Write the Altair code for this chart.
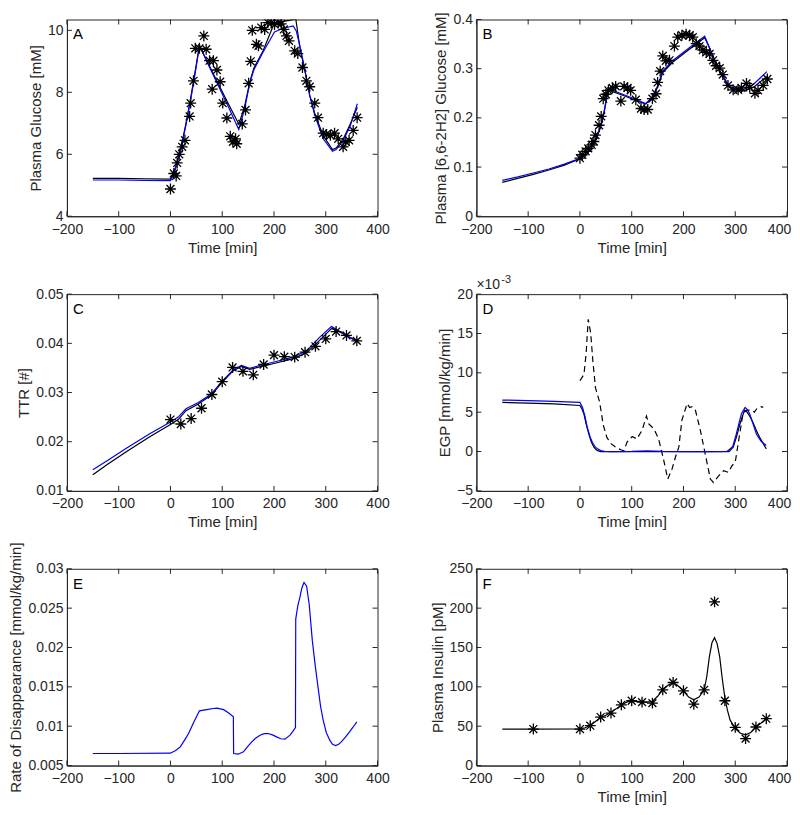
import altair as alt
import pandas as pd

# ------------------------------------------------------------------ data
X_TICKS = [-200, -100, 0, 100, 200, 300, 400]

# Panel A : plasma glucose [mM]
A_obs_t = [0, 6.5, 11, 13, 17, 22.6, 28, 37, 39, 44.5, 48, 56, 64.5, 69, 75.5, 80.6, 83, 89.7, 96, 101,
           109, 115.5, 120.6, 125.8, 128, 138.7, 145, 151, 155, 158, 166, 170, 175.5, 182, 188, 195, 201, 208, 214, 219,
           224, 229, 240, 246, 255, 262.6, 269, 278.7, 285, 295, 301, 309, 317, 324, 333.5, 338.7, 345, 353, 360.6]
A_obs_v = [4.88, 5.38, 5.30, 5.72, 6.0, 6.24, 6.45, 7.22, 7.65, 8.37, 9.42, 9.42, 9.82, 9.39, 9.02, 8.1, 9.02, 8.72, 8.34, 7.65,
           7.17, 6.58, 6.40, 6.50, 6.34, 6.98, 7.43, 8.29, 9.0, 10.0, 9.55, 9.5, 10.09, 10.03, 10.25, 10.25, 10.19, 10.25, 10.21, 10.03,
           9.82, 9.66, 9.34, 9.25, 8.8, 8.37, 8.18, 7.65, 7.18, 6.68, 6.64, 6.61, 6.68, 6.50, 6.24, 6.40, 6.45, 6.77, 7.18]
A_blk_t = [-150, -100, -50, 0, 5, 10, 20, 30, 40, 50, 56, 70, 90, 110, 132, 143, 153, 161, 179, 201, 215, 230, 242,
           250, 259, 269, 279, 295, 313, 320, 334, 348, 361]
A_blk_v = [5.22, 5.22, 5.21, 5.20, 5.35, 5.6, 6.2, 7.0, 7.9, 8.9, 9.5, 9.03, 8.36, 7.69, 6.98, 7.52, 8.32, 8.78, 9.34, 10.25, 10.28, 10.32, 10.38,
           9.44, 8.75, 7.9, 7.3, 6.6, 6.15, 6.2, 6.5, 7.0, 7.52]
A_blu_t = [-150, -100, -50, 0, 5, 10, 20, 30, 40, 50, 56, 70, 90, 110, 132, 143, 153, 161, 179, 201, 217, 237, 243,
           250, 259, 269, 279, 295, 313, 320, 334, 348, 361]
A_blu_v = [5.17, 5.17, 5.16, 5.15, 5.3, 5.55, 6.15, 6.95, 7.85, 8.85, 9.52, 9.0, 8.3, 7.6, 6.8, 7.45, 8.28, 8.72, 9.3, 9.95, 10.06, 10.14, 9.98,
           9.5, 8.78, 7.9, 7.25, 6.5, 6.1, 6.15, 6.45, 6.95, 7.63]

# Panel B : plasma [6,6-2H2] glucose [mM]
B_obs_t = [0, 4.5, 11, 16, 22.7, 27, 30, 37, 41, 45, 50, 55, 63, 69, 79, 85.4, 92, 98, 108, 118,
           124, 131, 140, 147, 150, 155, 160, 166, 173, 182.5, 189, 197, 205, 212, 218, 224.6, 231, 237.5, 244, 250.5,
           257, 263, 270, 276, 286, 296, 305.5, 312, 321.7, 328, 338, 344, 354, 362]
B_obs_v = [0.118, 0.125, 0.132, 0.138, 0.145, 0.152, 0.165, 0.185, 0.203, 0.239, 0.248, 0.256, 0.261, 0.264, 0.234, 0.264, 0.261, 0.256, 0.237, 0.219,
           0.217, 0.217, 0.239, 0.249, 0.272, 0.295, 0.326, 0.316, 0.317, 0.346, 0.364, 0.368, 0.37, 0.368, 0.364, 0.351, 0.346, 0.338, 0.333, 0.330,
           0.317, 0.306, 0.301, 0.288, 0.266, 0.257, 0.257, 0.261, 0.270, 0.262, 0.250, 0.256, 0.266, 0.279]
B_mod_t = [-150, -120, -90, -60, -30, 0, 10, 20, 30, 40, 47, 52, 56, 80, 100, 127, 140, 150, 160, 179, 212, 241, 250, 260, 270, 289, 313, 335, 361]
B_blu_v = [0.073, 0.080, 0.088, 0.096, 0.106, 0.118, 0.125, 0.137, 0.155, 0.183, 0.215, 0.245, 0.259, 0.249, 0.241, 0.229, 0.243, 0.265, 0.295,
           0.316, 0.343, 0.366, 0.343, 0.318, 0.296, 0.264, 0.256, 0.268, 0.294]
B_blk_v = [0.069, 0.077, 0.085, 0.094, 0.104, 0.117, 0.124, 0.136, 0.153, 0.181, 0.212, 0.242, 0.256, 0.247, 0.239, 0.228, 0.241, 0.262, 0.292,
           0.313, 0.340, 0.363, 0.343, 0.317, 0.293, 0.262, 0.254, 0.262, 0.284]

# Panel C : TTR [#]
C_obs_t = [0, 20, 40, 60, 80, 100, 120, 140, 160, 180, 200, 220, 240, 260, 280, 300, 320, 340, 360]
C_obs_v = [0.0245, 0.0236, 0.0247, 0.0268, 0.0296, 0.0322, 0.0351, 0.0343, 0.0336, 0.0357, 0.0376, 0.0373, 0.0372, 0.0382, 0.0394,
           0.0409, 0.0424, 0.0416, 0.0405]
C_mod_t = [-150, -120, -86, -40, 0, 15, 30, 53, 79, 101, 121, 137, 153, 172, 204, 237, 263, 288, 311, 321, 340, 361]
C_blu_v = [0.0143, 0.0163, 0.0186, 0.0216, 0.0240, 0.0250, 0.0267, 0.0279, 0.0297, 0.0324, 0.0346, 0.0355, 0.0349, 0.0355, 0.0363,
           0.0372, 0.0385, 0.0412, 0.0434, 0.0428, 0.0416, 0.0405]
C_blk_v = [0.0133, 0.0155, 0.0179, 0.0210, 0.0235, 0.0245, 0.0263, 0.0276, 0.0295, 0.0322, 0.0344, 0.0353, 0.0347, 0.0352, 0.0360,
           0.0369, 0.0381, 0.0406, 0.0430, 0.0427, 0.0415, 0.0404]

# Panel D : EGP [mmol/kg/min] (values in 1e-3)
D_blu_t = [-150, -100, -50, 0, 5, 10, 14, 20, 24, 30, 34, 40, 47, 60, 100, 130, 160, 200, 250, 284, 295, 302, 308, 312, 319,
           324, 328, 335, 341, 350, 360]
D_blu_v = [6.54, 6.48, 6.38, 6.24, 5.6, 4.4, 3.1, 1.8, 1.18, 0.55, 0.34, 0.12, 0.04, 0.0, 0.02, 0.1, 0.02, 0.0, 0.0, 0.02, 0.6, 2.2, 3.8, 4.8, 5.6,
           5.3, 4.77, 3.4, 2.2, 1.3, 0.77]
D_blk_t = [-150, -100, -50, 0, 4, 8, 12, 17, 22, 27, 33, 40, 100, 200, 288, 296, 303, 309, 318, 322, 328, 335, 342, 348, 355, 360]
D_blk_v = [6.24, 6.15, 6.05, 5.85, 5.4, 4.7, 3.5, 2.24, 1.2, 0.55, 0.15, 0.0, 0.0, 0.0, 0.0, 0.55, 2.0, 3.5, 5.26, 5.1, 4.5, 3.6, 2.5, 1.7, 0.9, 0.34]
D_dash_t = [0, 7.8, 12, 16, 20.7, 25, 30, 38, 45, 52, 60, 70, 80, 85, 91, 101, 110, 120, 128.5, 133, 142.7, 152, 162, 169.7, 178, 184.4,
            191, 197, 207, 212, 216.6, 223, 232.6, 242, 252, 258, 268, 277.6, 287, 293.7, 300, 306.6, 315, 322.6, 332, 337, 342, 351.5, 354]
D_dash_v = [9.0, 9.8, 12.5, 16.8, 15.1, 11.5, 8.1, 6.3, 3.4, 1.8, 1.0, 0.5, 0.2, 0.1, 1.2, 1.9, 1.6, 2.7, 4.5, 3.5, 2.9, 1.6, -1.15, -3.5, -2.2, -0.73,
            0.56, 4.0, 6.1, 5.6, 5.7, 5.26, 2.7, -0.3, -3.5, -3.93, -3.08, -2.44, -2.65, -1.8, -1.37, 1.41, 4.83, 5.26, 5.26, 5.0, 5.47, 5.7, 5.6]

# Panel E : rate of disappearance [mmol/kg/min]
E_t = [-150, -100, 0, 10, 19, 27, 35, 45, 56, 70, 83, 90, 102.5, 112, 121.5, 122, 131, 141, 149, 157, 165, 173, 181, 189, 197, 205,
       213, 221, 231, 236, 241.5, 242, 246, 250, 254, 258, 263, 268, 274, 280, 285, 290, 295, 301, 307.7, 313, 319, 325, 330, 338,
       346, 353, 360]
E_v = [0.00653, 0.00653, 0.00657, 0.0069, 0.00737, 0.0082, 0.00907, 0.0105, 0.01195, 0.0121, 0.01225, 0.0123, 0.0121, 0.0117, 0.01119,
       0.00653, 0.00644, 0.00674, 0.0074, 0.0080, 0.0085, 0.00886, 0.00905, 0.00907, 0.0089, 0.00864, 0.0084, 0.00835, 0.00886, 0.0093,
       0.00983, 0.0236, 0.0253, 0.02636, 0.0276, 0.02826, 0.0278, 0.0255, 0.0209, 0.0175, 0.0150, 0.0125, 0.01076, 0.0092, 0.00822,
       0.0077, 0.00754, 0.0077, 0.0080, 0.0086, 0.00928, 0.0099, 0.01055]

# Panel F : plasma insulin [pM]
F_obs_t = [-90, 0, 20, 40, 60, 80, 100, 120, 140, 160, 180, 200, 220, 240, 260, 280, 300, 320, 340, 360]
F_obs_v = [46.4, 46.4, 50.6, 61.6, 66.7, 77.2, 82.3, 80.6, 79.3, 96.2, 105.5, 95, 78, 96.2, 208, 82.3, 48.5, 34.2, 49, 59.5]
F_mod_t = [-150, -90, 0, 10, 19, 30, 40, 50, 59, 70, 80, 90, 100, 110, 120, 130, 140, 150, 160, 170, 180, 190, 200, 210, 220, 230,
           240, 245, 250, 255, 260, 265, 270, 275, 280, 285, 290, 300, 310, 320, 330, 340, 350, 360]
F_mod_v = [46.4, 46.4, 46.6, 48, 50.6, 56, 61, 64, 67.5, 72, 77, 80.5, 82, 81.5, 81, 80.5, 81.5, 88, 96, 102, 105.5, 101, 94.5, 87,
           83.5, 87, 96, 113, 138, 156, 162.5, 155, 138, 110, 86, 70, 58, 47, 41, 39, 42, 49, 54, 59.5]

# ------------------------------------------------------------------ style
FONT = "Liberation Sans"
TXT = "#262626"
BLUE = "#0000ff"
W, H = 311, 197
TICK = 5
STAR = "M0,-1L0,1M-1,0L1,0M-0.72,-0.72L0.72,0.72M-0.72,0.72L0.72,-0.72"


def ldf(t, v):
    return pd.DataFrame({"t": t, "y": v, "i": list(range(len(t)))})


def txt(s, size, x, y, align="left", baseline="middle", color="black"):
    d = pd.DataFrame({"lab": [s]})
    return alt.Chart(d).mark_text(align=align, baseline=baseline, fontSize=size, font=FONT, color=color).encode(
        text="lab:N", x=alt.value(x), y=alt.value(y))


def panel(letter, ydom, yticks, ytitle, lines, stars=None, xtitle="Time [min]", exponent=False, right_col=False):
    xaxis = dict(values=X_TICKS, title=xtitle, labelPadding=6, titlePadding=4)
    if right_col:
        # keep the last label inside the page
        xaxis["labelOffset"] = {"condition": {"test": "datum.value == 400", "value": -8}, "value": 0}
    X = alt.X("t:Q", scale=alt.Scale(domain=[-200, 400], nice=False, zero=False), axis=alt.Axis(**xaxis))
    Y = alt.Y("y:Q", scale=alt.Scale(domain=ydom, nice=False, zero=False),
              axis=alt.Axis(values=yticks, title=ytitle, format=".4~f", labelPadding=4, titlePadding=4))
    layers = []
    # inward MATLAB-style ticks on all four sides
    xt = pd.DataFrame({"t": X_TICKS})
    yt = pd.DataFrame({"y": yticks})
    tick_style = dict(color=TXT, strokeWidth=1)
    layers.append(alt.Chart(xt).mark_rule(**tick_style).encode(x=X, y=alt.value(H), y2=alt.value(H - TICK)))
    layers.append(alt.Chart(xt).mark_rule(**tick_style).encode(x=X, y=alt.value(0), y2=alt.value(TICK)))
    layers.append(alt.Chart(yt).mark_rule(**tick_style).encode(y=Y, x=alt.value(0), x2=alt.value(TICK)))
    layers.append(alt.Chart(yt).mark_rule(**tick_style).encode(y=Y, x=alt.value(W), x2=alt.value(W - TICK)))
    for df, color, dash in lines:
        kw = dict(color=color, strokeWidth=1.2, clip=True)
        if dash:
            kw["strokeDash"] = [6, 4]
        layers.append(alt.Chart(df).mark_line(**kw).encode(x=X, y=Y, order="i:Q"))
    if stars is not None:
        layers.append(alt.Chart(stars).mark_point(shape=STAR, size=120, filled=False, color="black",
                                                  strokeWidth=1.3, opacity=1, clip=True).encode(x=X, y=Y))
    layers.append(txt(letter, 15, 6, 15))
    if exponent:
        layers.append(txt("×10", 14, 0, -2, baseline="bottom", color=TXT))
        layers.append(txt("-3", 11, 25, -9, baseline="bottom", color=TXT))
    return alt.layer(*layers).properties(width=W, height=H)


pA = panel("A", [4, 10.35], [4, 6, 8, 10], "Plasma Glucose [mM]",
           [(ldf(A_blk_t, A_blk_v), "black", False), (ldf(A_blu_t, A_blu_v), BLUE, False)],
           stars=ldf(A_obs_t, A_obs_v))
pB = panel("B", [0, 0.4], [0, 0.1, 0.2, 0.3, 0.4], "Plasma [6,6-2H2] Glucose [mM]",
           [(ldf(B_mod_t, B_blk_v), "black", False), (ldf(B_mod_t, B_blu_v), BLUE, False)],
           stars=ldf(B_obs_t, B_obs_v), right_col=True)
pC = panel("C", [0.01, 0.05], [0.01, 0.02, 0.03, 0.04, 0.05], "TTR [#]",
           [(ldf(C_mod_t, C_blk_v), "black", False), (ldf(C_mod_t, C_blu_v), BLUE, False)],
           stars=ldf(C_obs_t, C_obs_v))
pD = panel("D", [-5, 20], [-5, 0, 5, 10, 15, 20], "EGP [mmol/kg/min]",
           [(ldf(D_dash_t, D_dash_v), "black", True), (ldf(D_blk_t, D_blk_v), "black", False),
            (ldf(D_blu_t, D_blu_v), BLUE, False)],
           exponent=True, right_col=True)
pE = panel("E", [0.005, 0.03], [0.005, 0.01, 0.015, 0.02, 0.025, 0.03], "Rate of Disappearance [mmol/kg/min]",
           [(ldf(E_t, E_v), BLUE, False)], xtitle="")
pF = panel("F", [0, 250], [0, 50, 100, 150, 200, 250], "Plasma Insulin [pM]",
           [(ldf(F_mod_t, F_mod_v), "black", False)],
           stars=ldf(F_obs_t, F_obs_v), right_col=True)

chart = alt.concat(pA, pB, pC, pD, pE, pF, columns=2,
                   spacing={"row": 78, "column": 99}, bounds="flush").properties(
    padding={"left": 0, "top": 2, "right": 0, "bottom": 0}
).configure(font=FONT).configure_view(
    stroke=TXT, strokeWidth=1
).configure_axis(
    labelFont=FONT, titleFont=FONT, labelFontSize=14, titleFontSize=15, titleFontWeight="normal",
    labelColor=TXT, titleColor=TXT, domainColor=TXT, ticks=False, grid=False,
    labelFlush=False, labelOverlap=False
)

chart.save("out.html", embed_options={"renderer": "svg", "actions": False})
